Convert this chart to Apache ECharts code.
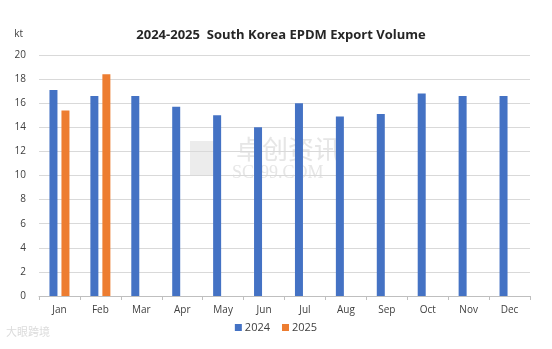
<!DOCTYPE html>
<html>
<head>
<meta charset="utf-8">
<script src="https://cdn.jsdelivr.net/npm/echarts@6/dist/echarts.min.js"></script>
<style>
  html, body { margin: 0; padding: 0; background: #fff; }
  #chart { width: 552px; height: 349px; }
</style>
</head>
<body>
<div id="chart"></div>
<script>
// Monthly export volume, kt
const months = ['Jan', 'Feb', 'Mar', 'Apr', 'May', 'Jun', 'Jul', 'Aug', 'Sep', 'Oct', 'Nov', 'Dec'];
const volume2024 = [17.1, 16.6, 16.6, 15.7, 15.0, 14.0, 16.0, 14.9, 15.1, 16.8, 16.6, 16.6];
const volume2025 = [15.4, 18.4, null, null, null, null, null, null, null, null, null, null];
const yTicks = { min: 0, max: 20, interval: 2 };

const font = '"Open Sans", "Noto Sans", sans-serif';
const chart = echarts.init(document.getElementById('chart'), null, { renderer: 'canvas' });

chart.setOption({
  animation: false,
  backgroundColor: '#ffffff',
  title: {
    text: '2024-2025  South Korea EPDM Export Volume',
    left: 276,
    top: 24,
    textAlign: 'center',
    textStyle: { fontFamily: font, fontSize: 13, fontWeight: 'bold', color: '#262626' }
  },
  legend: {
    data: ['2024', '2025'],
    bottom: 11,
    left: 'center',
    itemWidth: 7,
    itemHeight: 7,
    itemGap: 12,
    icon: 'rect',
    textStyle: { fontFamily: font, fontSize: 11, color: '#404040', padding: [0, 0, 0, -2] }
  },
  grid: { left: 39, right: 22, top: 55, bottom: 53, containLabel: false },
  xAxis: {
    type: 'category',
    data: months,
    axisLine: { lineStyle: { color: '#bfbfbf' } },
    axisTick: { show: true, alignWithLabel: false, length: 4, lineStyle: { color: '#bfbfbf' } },
    axisLabel: { fontFamily: font, fontSize: 10, color: '#404040', margin: 9 }
  },
  yAxis: {
    type: 'value',
    name: 'kt',
    nameLocation: 'end',
    nameGap: 16,
    nameTextStyle: { fontFamily: font, fontSize: 10, color: '#404040', align: 'right', padding: [0, 16, 0, 0] },
    min: yTicks.min,
    max: yTicks.max,
    interval: yTicks.interval,
    axisLine: { show: false },
    axisTick: { show: false },
    axisLabel: { fontFamily: font, fontSize: 10, color: '#404040', margin: 13 },
    splitLine: { lineStyle: { color: '#d9d9d9' } }
  },
  series: [
    {
      name: '2024',
      type: 'bar',
      data: volume2024,
      barWidth: 8,
      barGap: '50%',
      itemStyle: { color: '#4472c4' }
    },
    {
      name: '2025',
      type: 'bar',
      data: volume2025,
      barWidth: 8,
      itemStyle: { color: '#ed7d31' }
    }
  ],
  graphic: [
    // faint publisher marks
    {
      type: 'rect', left: 190, top: 141, shape: { width: 30, height: 34 },
      style: { fill: '#ececec' }, silent: true, z: 0
    },
    {
      type: 'text', left: 236, top: 136,
      style: { text: '卓创资讯', fontFamily: '"Noto Sans CJK SC"', fontSize: 26, fill: '#e6e6e6', letterSpacing: 6 },
      silent: true, z: 0
    },
    {
      type: 'text', left: 232, top: 164,
      style: { text: 'SCI99.COM', fontFamily: '"Liberation Serif", serif', fontSize: 18, fill: '#e6e6e6' },
      silent: true, z: 0
    },
    {
      type: 'text', left: 6, top: 326,
      style: { text: '大眼跨境', fontFamily: '"Noto Sans CJK SC"', fontSize: 11, fill: '#dcdcdc' },
      silent: true, z: 0
    }
  ]
});
</script>
</body>
</html>
